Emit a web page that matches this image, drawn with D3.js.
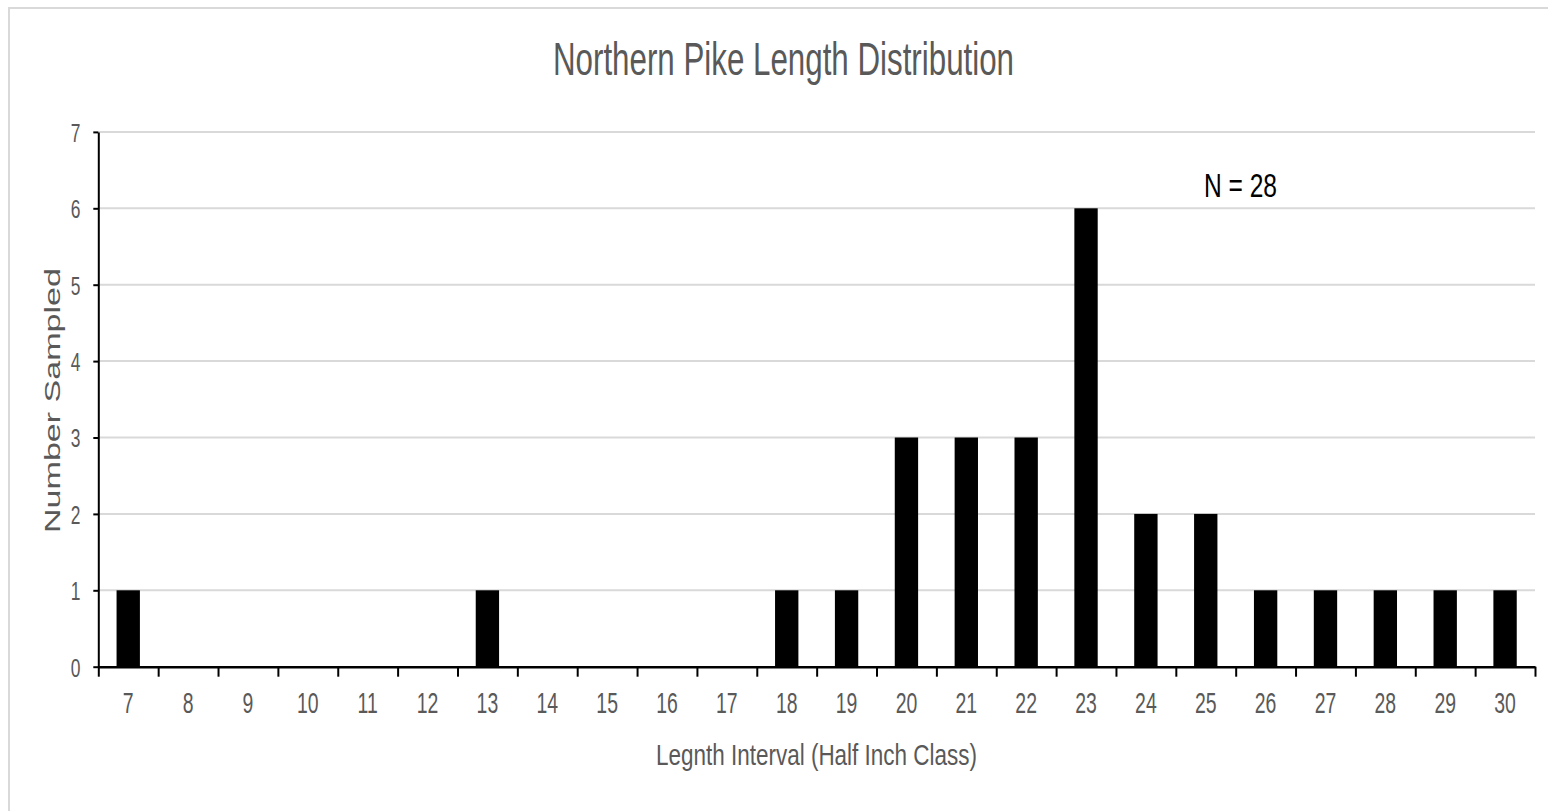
<!DOCTYPE html>
<html>
<head>
<meta charset="utf-8">
<script src="https://cdn.jsdelivr.net/npm/d3@7"></script>
<style>
  html, body { margin: 0; padding: 0; background: #ffffff; overflow: hidden; }
  svg { display: block; }
  text { font-family: "Liberation Sans", Arial, sans-serif; }
</style>
</head>
<body>
<script>
// ---- data ----
const categories = [7, 8, 9, 10, 11, 12, 13, 14, 15, 16, 17, 18, 19, 20, 21, 22, 23, 24, 25, 26, 27, 28, 29, 30];
const counts     = [1, 0, 0, 0,  0,  0,  1,  0,  0,  0,  0,  1,  1,  3,  3,  3,  6,  2,  2,  1,  1,  1,  1,  1];
const yTicks = [0, 1, 2, 3, 4, 5, 6, 7];
const titleText = "Northern Pike Length Distribution";
const xLabelText = "Legnth Interval (Half Inch Class)";
const yLabelText = "Number Sampled";
const noteText = "N = 28";

const W = 1548, H = 811;
const SX = 0.67; // horizontal squeeze of glyphs
const plot = { left: 98.3, right: 1535, top: 131.9, bottom: 666.7 };
const grey = "#595959";

const svg = d3.select("body").append("svg").attr("width", W).attr("height", H);

// outer frame
svg.append("rect").attr("x", 9).attr("y", 8).attr("width", 1700).attr("height", 1000)
  .attr("fill", "none").attr("stroke", "#d9d9d9").attr("stroke-width", 2);

const x = d3.scaleBand().domain(categories).range([plot.left, plot.right])
  .paddingInner(0.61).paddingOuter(0.305);
const y = d3.scaleLinear().domain([0, 7]).range([plot.bottom, plot.top]);
const xb = d3.scaleLinear().domain([0, categories.length]).range([plot.left, plot.right]);

// gridlines
svg.append("g").selectAll("line").data(yTicks.filter(d => d > 0)).join("line")
  .attr("x1", plot.left).attr("x2", plot.right)
  .attr("y1", d => y(d)).attr("y2", d => y(d))
  .attr("stroke", "#d9d9d9").attr("stroke-width", 2);

// bars
svg.append("g").selectAll("rect").data(categories.map((c, i) => ({ c, v: counts[i] })).filter(d => d.v > 0))
  .join("rect")
  .attr("x", d => x(d.c)).attr("width", x.bandwidth())
  .attr("y", d => y(d.v)).attr("height", d => y(0) - y(d.v))
  .attr("fill", "#000");

// y axis
const yAxis = svg.append("g").attr("transform", `translate(${plot.left},0)`)
  .call(d3.axisLeft(y).tickValues(yTicks).tickSize(5).tickSizeOuter(0).tickFormat(d3.format("d")));
yAxis.select(".domain").attr("stroke", "#000").attr("stroke-width", 2);
yAxis.selectAll(".tick line").attr("stroke", "#000").attr("stroke-width", 2);
yAxis.selectAll(".tick text")
  .attr("x", -18 / SX).attr("dy", "0.36em")
  .attr("transform", `scale(${SX},1)`)
  .attr("font-size", 26).attr("fill", grey)
  .attr("font-family", "Liberation Sans, Arial, sans-serif");

// x axis boundary ticks + line
const xAxisTicks = svg.append("g").attr("transform", `translate(0,${plot.bottom})`)
  .call(d3.axisBottom(xb).tickValues(d3.range(0, categories.length + 1)).tickSize(10).tickSizeOuter(0).tickFormat(""));
xAxisTicks.select(".domain").attr("stroke", "#000").attr("stroke-width", 2.5);
xAxisTicks.selectAll(".tick line").attr("stroke", "#000").attr("stroke-width", 2);

// x axis labels
const xLab = svg.append("g").attr("transform", `translate(0,${plot.bottom})`)
  .call(d3.axisBottom(x).tickSize(0).tickSizeOuter(0));
xLab.select(".domain").remove();
xLab.selectAll(".tick text")
  .attr("y", 46).attr("dy", 0)
  .attr("transform", `scale(${SX},1)`)
  .attr("x", 0)
  .attr("font-size", 29).attr("fill", grey)
  .attr("font-family", "Liberation Sans, Arial, sans-serif");
// keep centred after scale: move group transform
xLab.selectAll(".tick").each(function(d) {
  const cx = x(d) + x.bandwidth() / 2;
  d3.select(this).attr("transform", `translate(${cx},0)`);
});

// title
svg.append("text").attr("x", 553).attr("y", 75)
  .attr("font-size", 46).attr("fill", grey)
  .attr("textLength", 461).attr("lengthAdjust", "spacingAndGlyphs")
  .text(titleText);

// N = 28
svg.append("text").attr("x", 1204).attr("y", 197)
  .attr("font-size", 33).attr("fill", "#000")
  .attr("textLength", 73).attr("lengthAdjust", "spacingAndGlyphs")
  .text(noteText);

// x axis title
svg.append("text").attr("x", 656).attr("y", 765)
  .attr("font-size", 30).attr("fill", grey)
  .attr("textLength", 321).attr("lengthAdjust", "spacingAndGlyphs")
  .text(xLabelText);

// y axis title
svg.append("g").attr("transform", `translate(59.5,400.5) scale(${SX},1) rotate(-90)`)
  .append("text").attr("x", 0).attr("y", 0).attr("text-anchor", "middle")
  .attr("font-size", 34).attr("fill", grey)
  .attr("textLength", 265).attr("lengthAdjust", "spacingAndGlyphs")
  .text(yLabelText);
</script>
</body>
</html>
